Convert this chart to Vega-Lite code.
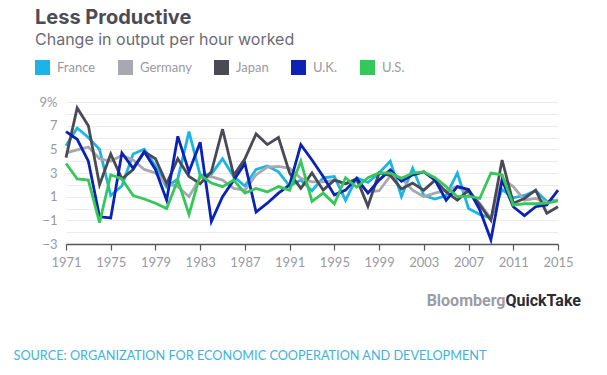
{
  "$schema": "https://vega.github.io/schema/vega-lite/v6.json",
  "width": 492,
  "height": 142,
  "autosize": {"type": "none"},
  "padding": {"left": 66, "top": 102, "right": 49, "bottom": 131},
  "background": "white",
  "config": {"view": {"stroke": null}, "font": "Lato"},
  "title": {
    "text": "Less Productive",
    "subtitle": "Change in output per hour worked",
    "anchor": "start",
    "frame": "group",
    "dx": -31,
    "offset": 12,
    "font": "Inter",
    "fontSize": 20,
    "fontWeight": "bold",
    "color": "#4b4b57",
    "subtitleFont": "Inter",
    "subtitleFontSize": 16,
    "subtitleColor": "#6b6b74",
    "subtitlePadding": 4
  },
  "layer": [
    {
      "data": {
        "values": [
          {"year": 1971, "France": 5.3, "Germany": 4.7, "Japan": 4.3, "UK": 6.5, "US": 3.8},
          {"year": 1972, "France": 6.8, "Germany": 4.95, "Japan": 8.5, "UK": 5.85, "US": 2.5},
          {"year": 1973, "France": 6.0, "Germany": 5.2, "Japan": 7.0, "UK": 4.0, "US": 2.4},
          {"year": 1974, "France": 5.0, "Germany": 4.2, "Japan": 2.0, "UK": -0.7, "US": -1.2},
          {"year": 1975, "France": 1.1, "Germany": 4.0, "Japan": 4.6, "UK": -0.8, "US": 2.85},
          {"year": 1976, "France": 1.9, "Germany": 4.5, "Japan": 2.5, "UK": 4.7, "US": 2.5},
          {"year": 1977, "France": 4.6, "Germany": 4.1, "Japan": 3.3, "UK": 3.4, "US": 1.1},
          {"year": 1978, "France": 5.0, "Germany": 3.3, "Japan": 4.8, "UK": 4.8, "US": 0.8},
          {"year": 1979, "France": 3.6, "Germany": 3.0, "Japan": 4.2, "UK": 3.3, "US": 0.45},
          {"year": 1980, "France": 1.8, "Germany": 2.1, "Japan": 2.1, "UK": 0.7, "US": 0.0},
          {"year": 1981, "France": 2.5, "Germany": 1.85, "Japan": 4.2, "UK": 6.1, "US": 2.4},
          {"year": 1982, "France": 6.5, "Germany": 1.0, "Japan": 2.7, "UK": 3.1, "US": -0.5},
          {"year": 1983, "France": 2.8, "Germany": 2.6, "Japan": 2.1, "UK": 5.6, "US": 2.85},
          {"year": 1984, "France": 2.9, "Germany": 2.7, "Japan": 3.1, "UK": -1.1, "US": 2.15},
          {"year": 1985, "France": 4.2, "Germany": 2.4, "Japan": 6.7, "UK": 1.0, "US": 1.85},
          {"year": 1986, "France": 2.7, "Germany": 1.7, "Japan": 2.8, "UK": 2.4, "US": 2.4},
          {"year": 1987, "France": 1.9, "Germany": 1.55, "Japan": 4.2, "UK": 3.8, "US": 1.3},
          {"year": 1988, "France": 3.3, "Germany": 2.85, "Japan": 6.3, "UK": -0.3, "US": 1.7},
          {"year": 1989, "France": 3.6, "Germany": 3.5, "Japan": 5.4, "UK": 0.45, "US": 1.4},
          {"year": 1990, "France": 3.1, "Germany": 3.55, "Japan": 6.0, "UK": 1.3, "US": 1.85},
          {"year": 1991, "France": 1.9, "Germany": 3.4, "Japan": 3.0, "UK": 2.0, "US": 1.55},
          {"year": 1992, "France": 2.4, "Germany": 2.55, "Japan": 1.7, "UK": 5.4, "US": 4.0},
          {"year": 1993, "France": 1.5, "Germany": 2.25, "Japan": 3.0, "UK": 4.1, "US": 0.6},
          {"year": 1994, "France": 2.6, "Germany": 2.25, "Japan": 1.55, "UK": 2.7, "US": 1.3},
          {"year": 1995, "France": 2.7, "Germany": 2.4, "Japan": 2.4, "UK": 1.15, "US": 0.4},
          {"year": 1996, "France": 0.7, "Germany": 2.1, "Japan": 2.1, "UK": 1.55, "US": 2.6},
          {"year": 1997, "France": 2.6, "Germany": 2.3, "Japan": 2.5, "UK": 2.55, "US": 1.8},
          {"year": 1998, "France": 2.2, "Germany": 1.4, "Japan": 0.2, "UK": 1.3, "US": 2.6},
          {"year": 1999, "France": 3.0, "Germany": 1.5, "Japan": 3.0, "UK": 2.4, "US": 3.0},
          {"year": 2000, "France": 4.0, "Germany": 2.75, "Japan": 2.8, "UK": 3.25, "US": 3.0},
          {"year": 2001, "France": 1.0, "Germany": 2.55, "Japan": 1.65, "UK": 2.3, "US": 2.55},
          {"year": 2002, "France": 3.4, "Germany": 1.55, "Japan": 2.15, "UK": 2.85, "US": 3.0},
          {"year": 2003, "France": 1.1, "Germany": 1.0, "Japan": 1.55, "UK": 3.1, "US": 3.1},
          {"year": 2004, "France": 0.8, "Germany": 1.3, "Japan": 2.4, "UK": 2.4, "US": 2.6},
          {"year": 2005, "France": 1.1, "Germany": 1.55, "Japan": 1.4, "UK": 0.7, "US": 1.85},
          {"year": 2006, "France": 3.0, "Germany": 1.85, "Japan": 0.7, "UK": 1.85, "US": 1.0},
          {"year": 2007, "France": 0.0, "Germany": 1.3, "Japan": 1.55, "UK": 1.6, "US": 1.05},
          {"year": 2008, "France": -0.5, "Germany": 0.45, "Japan": 0.3, "UK": -0.1, "US": 0.85},
          {"year": 2009, "France": -0.8, "Germany": -0.85, "Japan": -1.0, "UK": -2.65, "US": 3.0},
          {"year": 2010, "France": 1.6, "Germany": 2.5, "Japan": 4.1, "UK": 2.4, "US": 2.85},
          {"year": 2011, "France": 0.9, "Germany": 1.85, "Japan": 0.45, "UK": 0.15, "US": 0.3},
          {"year": 2012, "France": 1.1, "Germany": 0.7, "Japan": 0.85, "UK": -0.6, "US": 0.4},
          {"year": 2013, "France": 1.5, "Germany": 0.85, "Japan": 1.55, "UK": 0.15, "US": 0.4},
          {"year": 2014, "France": 0.6, "Germany": 0.55, "Japan": -0.4, "UK": 0.3, "US": 0.45},
          {"year": 2015, "France": 0.7, "Germany": 0.7, "Japan": 0.15, "UK": 1.55, "US": 0.65}
        ]
      },
      "transform": [{"fold": ["France", "Germany", "Japan", "UK", "US"], "as": ["country", "value"]}],
      "mark": {"type": "line", "strokeWidth": 2.8},
      "encoding": {
        "x": {
          "field": "year",
          "type": "quantitative",
          "scale": {"domain": [1971, 2015], "nice": false, "zero": false},
          "axis": {
            "values": [1971, 1975, 1979, 1983, 1987, 1991, 1995, 1999, 2003, 2007, 2011, 2015],
            "format": "d",
            "labelOverlap": false,
            "labelFlush": false,
            "grid": false,
            "domainColor": "#55555f",
            "domainWidth": 1.5,
            "tickColor": "#55555f",
            "tickSize": 6,
            "tickWidth": 1.2,
            "labelColor": "#9a9aa2",
            "labelFontSize": 13,
            "labelPadding": 6,
            "labelFont": "Lato",
            "title": "SOURCE: ORGANIZATION FOR ECONOMIC COOPERATION AND DEVELOPMENT",
            "titleX": -53,
            "titleY": 111,
            "titleAlign": "left",
            "titleBaseline": "middle",
            "titleColor": "#3fb3dc",
            "titleFont": "Lato",
            "titleFontSize": 12.7,
            "titleFontWeight": "normal"
          }
        },
        "y": {
          "field": "value",
          "type": "quantitative",
          "scale": {"domain": [-3, 9], "nice": false, "zero": false},
          "axis": {
            "values": [-3, -2, -1, 0, 1, 2, 3, 4, 5, 6, 7, 8, 9],
            "labelExpr": "abs(datum.value) % 2 == 1 ? (datum.value == 9 ? '9%' : datum.label) : ''",
            "labelOverlap": false,
            "grid": true,
            "gridColor": "#ebebeb",
            "domain": false,
            "ticks": false,
            "labelPadding": 9,
            "labelColor": "#9a9aa2",
            "labelFontSize": 13,
            "labelFont": "Lato",
            "encode": {"labels": {"update": {"dx": {"signal": "datum.value == 9 ? 10 : 0"}}}},
            "title": "Bloomberg",
            "titleAngle": 0,
            "titleX": 439,
            "titleY": 198,
            "titleAlign": "right",
            "titleBaseline": "middle",
            "titleFont": "Roboto",
            "titleFontSize": 16,
            "titleFontWeight": "bold",
            "titleColor": "#9c9ca4"
          }
        },
        "color": {
          "field": "country",
          "type": "nominal",
          "scale": {
            "domain": ["France", "Germany", "Japan", "UK", "US"],
            "range": ["#1ab5e6", "#a8a8b0", "#4a4a55", "#0b22b4", "#36c75a"]
          },
          "legend": {
            "orient": "none",
            "legendX": -31,
            "legendY": -42,
            "direction": "horizontal",
            "title": null,
            "symbolType": "square",
            "symbolSize": 225,
            "symbolStrokeWidth": 0,
            "labelFontSize": 13,
            "labelFont": "Lato",
            "labelColor": "#9a9aa2",
            "labelOffset": 7,
            "columnPadding": 22,
            "labelExpr": "datum.label == 'UK' ? 'U.K.' : datum.label == 'US' ? 'U.S.' : datum.label",
            "encode": {"symbols": {"update": {"fill": {"scale": "color", "field": "value"}, "fillOpacity": {"value": 1}, "strokeWidth": {"value": 0}}}}
          }
        }
      }
    },
    {
      "data": {"values": [{"v": 0}]},
      "mark": {"type": "rule", "opacity": 0},
      "encoding": {
        "y": {
          "field": "v",
          "type": "quantitative",
          "scale": {"domain": [-3, 9], "nice": false, "zero": false},
          "axis": {
            "orient": "right",
            "labels": false,
            "ticks": false,
            "domain": false,
            "grid": false,
            "title": "QuickTake",
            "titleAngle": 0,
            "titleX": -53,
            "titleY": 198,
            "titleAlign": "left",
            "titleBaseline": "middle",
            "titleFont": "Roboto",
            "titleFontSize": 16,
            "titleFontWeight": "bold",
            "titleColor": "#2b2b36"
          }
        }
      }
    }
  ],
  "resolve": {"scale": {"y": "independent"}}
}
